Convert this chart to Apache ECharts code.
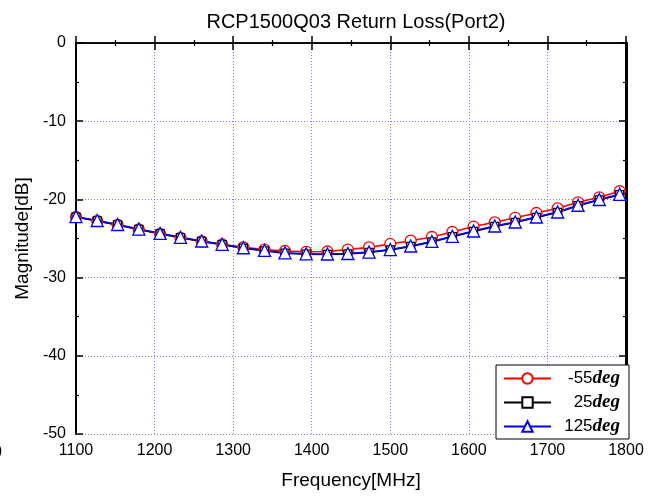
<!DOCTYPE html>
<html><head><meta charset="utf-8">
<script src="https://cdn.jsdelivr.net/npm/echarts@6/dist/echarts.min.js"></script>
<style>html,body{margin:0;padding:0;background:#fff}#c{width:659px;height:497px}</style>
</head><body><div id="c"></div>
<script>
// Frequencies (MHz); the last point (1800) carries no marker
const freq = [1100, 1127, 1153, 1180, 1207, 1233, 1260, 1286, 1313, 1340, 1366, 1393, 1420, 1446,
              1473, 1500, 1526, 1553, 1579, 1606, 1633, 1659, 1686, 1713, 1739, 1766, 1792, 1800];
const rlMinus55 = [-22.25, -22.76, -23.27, -23.85, -24.40, -24.91, -25.36, -25.77, -26.13, -26.41,
                   -26.60, -26.70, -26.66, -26.41, -26.13, -25.70, -25.28, -24.81, -24.17, -23.47,
                   -22.93, -22.35, -21.74, -21.14, -20.37, -19.73, -18.96, -18.61];
const rl25 = [-22.26, -22.75, -23.26, -23.84, -24.39, -24.90, -25.37, -25.79, -26.23, -26.58,
              -26.88, -27.01, -27.03, -26.97, -26.78, -26.46, -26.01, -25.43, -24.77, -24.09,
              -23.45, -22.94, -22.30, -21.66, -20.80, -20.06, -19.40, -19.07];
const rl125 = [-22.21, -22.70, -23.21, -23.79, -24.34, -24.85, -25.32, -25.74, -26.18, -26.53,
               -26.83, -26.96, -26.98, -26.92, -26.73, -26.41, -25.96, -25.38, -24.72, -24.04,
               -23.40, -22.89, -22.25, -21.61, -20.75, -20.01, -19.35, -19.02];
const tempLabels = ['-55', '25', '125'];
const unitLabel = 'deg';
const titleText = 'RCP1500Q03 Return Loss(Port2)';
const xName = 'Frequency[MHz]';
const yName = 'Magnitude[dB]';

const FONT = 'Liberation Sans, Arial, sans-serif';

function build(vals) {
  return freq.map((f, i) => i === freq.length - 1
    ? { value: [f, vals[i]], symbol: 'none' }
    : [f, vals[i]]);
}

function mkSeries(name, vals, color, symbol, size) {
  return {
    name: name, type: 'line', data: build(vals),
    symbol: symbol, symbolSize: size, showAllSymbol: true,
    lineStyle: { color: color, width: 1.6 },
    itemStyle: { color: '#fff', borderColor: color, borderWidth: 1.3 },
    emphasis: { disabled: true }, animation: false, z: 3
  };
}

const frameAxis = {
  axisLine: { show: true, lineStyle: { color: '#000', width: 1.5 } },
  axisTick: { show: true, inside: true, length: 7, lineStyle: { color: '#000', width: 1.5 } },
  minorTick: { show: true, splitNumber: 2, length: 3, lineStyle: { color: '#000', width: 1.2 } }
};
const gridLine = { show: true, lineStyle: { color: '#7b7bff', width: 1, type: [1, 2] } };

const chart = echarts.init(document.getElementById('c'));
chart.setOption({
  animation: false,
  backgroundColor: '#fff',
  title: {
    text: titleText, left: 351, textAlign: 'center', top: 7,
    textStyle: { fontFamily: FONT, fontSize: 20, fontWeight: 'normal', color: '#000' }
  },
  grid: { left: 76, right: 33, top: 43, bottom: 63 },
  xAxis: [
    Object.assign({
      type: 'value', min: 1100, max: 1800, interval: 100, position: 'bottom',
      axisLabel: { color: '#000', fontFamily: FONT, fontSize: 16, margin: 9, formatter: v => String(v) },
      splitLine: gridLine,
      name: xName, nameLocation: 'middle', nameGap: 37,
      nameTextStyle: { fontFamily: FONT, fontSize: 19, color: '#000' }
    }, frameAxis),
    Object.assign({
      type: 'value', min: 1100, max: 1800, interval: 100, position: 'top',
      axisLabel: { show: false }, splitLine: { show: false }
    }, frameAxis)
  ],
  yAxis: [
    Object.assign({
      type: 'value', min: -50, max: 0, interval: 10, position: 'left',
      axisLabel: { color: '#000', fontFamily: FONT, fontSize: 16, margin: 10 },
      splitLine: gridLine,
      name: yName, nameLocation: 'middle', nameGap: 43, nameRotate: 90,
      nameTextStyle: { fontFamily: FONT, fontSize: 19, color: '#000' }
    }, frameAxis, { axisLine: { show: true, lineStyle: { color: '#000', width: 2 } } }),
    Object.assign({
      type: 'value', min: -50, max: 0, interval: 10, position: 'right',
      axisLabel: { show: false }, splitLine: { show: false }
    }, frameAxis, { axisLine: { show: true, lineStyle: { color: '#000', width: 3 } } })
  ],
  legend: {
    orient: 'vertical', left: 496, top: 365,
    backgroundColor: '#fff', borderColor: '#000', borderWidth: 1,
    padding: [4, 9, 3, 7], itemWidth: 47, itemHeight: 13, itemGap: 5,
    selectedMode: false,
    data: tempLabels.map(t => t + unitLabel),
    formatter: name => '{n|' + name.replace(unitLabel, '') + '}{d|' + unitLabel + '}',
    textStyle: {
      color: '#000', width: 64, align: 'right',
      rich: {
        n: { fontFamily: FONT, fontSize: 17, align: 'right', lineHeight: 18, color: '#000' },
        d: { fontFamily: 'Liberation Serif, Times New Roman, serif', fontSize: 19, fontWeight: 'bold', fontStyle: 'italic', align: 'right', lineHeight: 18, color: '#000' }
      }
    },
    z: 10
  },
  graphic: [{
    type: 'text', left: -7, top: 445,
    style: { text: '0', font: '16px ' + FONT, fill: '#000' }
  }],
  series: [
    mkSeries(tempLabels[0] + unitLabel, rlMinus55, '#ff0000', 'circle', 11),
    mkSeries(tempLabels[1] + unitLabel, rl25, '#000000', 'rect', 8),
    mkSeries(tempLabels[2] + unitLabel, rl125, '#0000ff', 'triangle', 12)
  ]
});
</script>
</body></html>
